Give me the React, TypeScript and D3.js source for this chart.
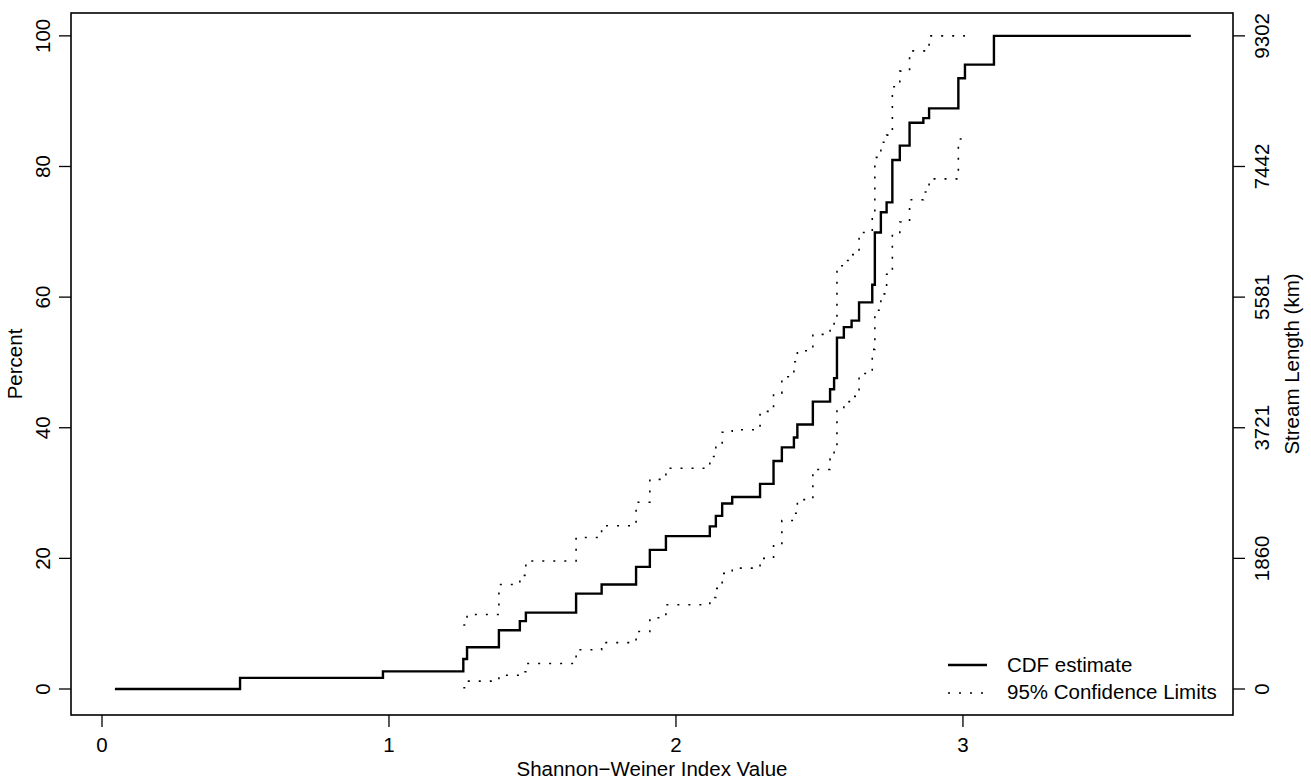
import React from "react";
import * as d3 from "d3";

// ---- data ----
const stepX = [0.045, 0.481, 0.979, 1.259, 1.272, 1.383, 1.456, 1.477, 1.652, 1.741, 1.861, 1.909, 1.965, 2.118, 2.139, 2.161, 2.196, 2.293, 2.340, 2.369, 2.411, 2.423, 2.477, 2.537, 2.551, 2.561, 2.585, 2.612, 2.638, 2.684, 2.693, 2.714, 2.734, 2.754, 2.780, 2.814, 2.862, 2.882, 2.984, 3.007, 3.108, 3.794];
const cdfPct = [0, 1.7, 2.7, 4.6, 6.4, 9.0, 10.4, 11.7, 14.6, 16.0, 18.7, 21.3, 23.4, 24.9, 26.5, 28.4, 29.4, 31.4, 34.9, 37.0, 38.5, 40.5, 44.0, 45.9, 47.6, 53.8, 55.4, 56.4, 59.2, 61.9, 69.9, 73.0, 74.5, 81.0, 83.2, 86.7, 87.4, 88.9, 93.5, 95.6, 100, 100];
const upperPct: (number | null)[] = [null, null, null, 9.8, 11.4, 16.0, 17.4, 19.6, 23.2, 25.0, 28.6, 32.1, 33.8, 35.6, 37.0, 39.3, 39.7, 42.5, 45.3, 47.8, 50.1, 51.8, 54.3, 55.4, 56.7, 64.8, 65.6, 66.5, 69.9, 73.1, 81.4, 83.7, 84.8, 92.2, 94.6, 97.7, 97.7, 100, 100, 100, null, null];
const lowerPct: (number | null)[] = [null, null, null, 0.2, 1.2, 2.1, 2.65, 3.9, 6.0, 7.1, 8.8, 10.9, 12.9, 14.0, 15.4, 17.7, 18.5, 20.0, 22.1, 25.8, 26.9, 29.0, 33.6, 35.2, 36.6, 42.8, 44.0, 44.8, 48.3, 52.0, 58.0, 60.5, 63.5, 69.6, 71.5, 74.9, 76.1, 78.1, 84.2, 84.9, null, null];

const xTicks = [0, 1, 2, 3];
const yTicks = [0, 20, 40, 60, 80, 100];
const rightTickLabels = ["0", "1860", "3721", "5581", "7442", "9302"];

const xTitle = "Shannon\u2212Weiner Index Value";
const yTitle = "Percent";
const rightTitle = "Stream Length (km)";
const legendLabels = ["CDF estimate", "95% Confidence Limits"];

// ---- layout ----
const W = 1311;
const H = 782;
const box = { left: 71, right: 1233, top: 13, bottom: 715 };
const FONT = "'Liberation Sans', Arial, Helvetica, sans-serif";
const FS = 20.5;

export default function App() {
  const x = d3.scaleLinear().domain([-0.108, 3.941]).range([box.left, box.right]);
  const y = d3.scaleLinear().domain([-3.98, 103.5]).range([box.bottom, box.top]);

  const pts = (vals: (number | null)[]) =>
    stepX.map((xv, i) => [xv, vals[i]] as [number, number | null]);

  const line = d3
    .line<[number, number | null]>()
    .defined((d) => d[1] !== null)
    .x((d) => x(d[0]))
    .y((d) => y(d[1] as number))
    .curve(d3.curveStepAfter);

  const cdfPath = line(pts(cdfPct)) || "";
  const upPath = line(pts(upperPct)) || "";
  const loPath = line(pts(lowerPct)) || "";

  const tick = 12;
  const dotDash = "2 9";
  const midY = (box.top + box.bottom) / 2;

  return (
    <svg
      width={W}
      height={H}
      style={{ position: "absolute", left: 0, top: 0, background: "#fff" }}
      fontFamily={FONT}
      fontSize={FS}
    >
      <rect x={0} y={0} width={W} height={H} fill="#fff" />
      {/* data */}
      <path d={cdfPath} fill="none" stroke="#000" strokeWidth={2.4} />
      <path d={upPath} fill="none" stroke="#000" strokeWidth={1.6} strokeDasharray={dotDash} />
      <path d={loPath} fill="none" stroke="#000" strokeWidth={1.6} strokeDasharray={dotDash} />

      {/* frame */}
      <rect
        x={box.left}
        y={box.top}
        width={box.right - box.left}
        height={box.bottom - box.top}
        fill="none"
        stroke="#000"
        strokeWidth={1.6}
      />

      {/* x axis */}
      {xTicks.map((t) => (
        <g key={"x" + t}>
          <line x1={x(t)} x2={x(t)} y1={box.bottom} y2={box.bottom + tick} stroke="#000" strokeWidth={1.3} />
          <text x={x(t)} y={752} textAnchor="middle">
            {t}
          </text>
        </g>
      ))}
      <text x={(box.left + box.right) / 2} y={776} textAnchor="middle">
        {xTitle}
      </text>

      {/* left y axis */}
      {yTicks.map((t) => (
        <g key={"y" + t}>
          <line x1={box.left} x2={box.left - tick} y1={y(t)} y2={y(t)} stroke="#000" strokeWidth={1.3} />
          <text transform={`translate(${50.3},${y(t)}) rotate(-90)`} textAnchor="middle">
            {t}
          </text>
        </g>
      ))}
      <text transform={`translate(${22.3},${midY}) rotate(-90)`} textAnchor="middle">
        {yTitle}
      </text>

      {/* right axis */}
      {yTicks.map((t, i) => (
        <g key={"r" + t}>
          <line x1={box.right} x2={box.right + tick} y1={y(t)} y2={y(t)} stroke="#000" strokeWidth={1.3} />
          <text transform={`translate(${1269.3},${y(t)}) rotate(-90)`} textAnchor="middle">
            {rightTickLabels[i]}
          </text>
        </g>
      ))}
      <text transform={`translate(${1299.3},${midY}) rotate(-90)`} textAnchor="middle">
        {rightTitle}
      </text>

      {/* legend */}
      <line x1={948} x2={987} y1={665} y2={665} stroke="#000" strokeWidth={2.4} />
      <line x1={948} x2={987} y1={693} y2={693} stroke="#000" strokeWidth={1.6} strokeDasharray={dotDash} />
      <text x={1007} y={672}>{legendLabels[0]}</text>
      <text x={1007} y={699}>{legendLabels[1]}</text>
    </svg>
  );
}
